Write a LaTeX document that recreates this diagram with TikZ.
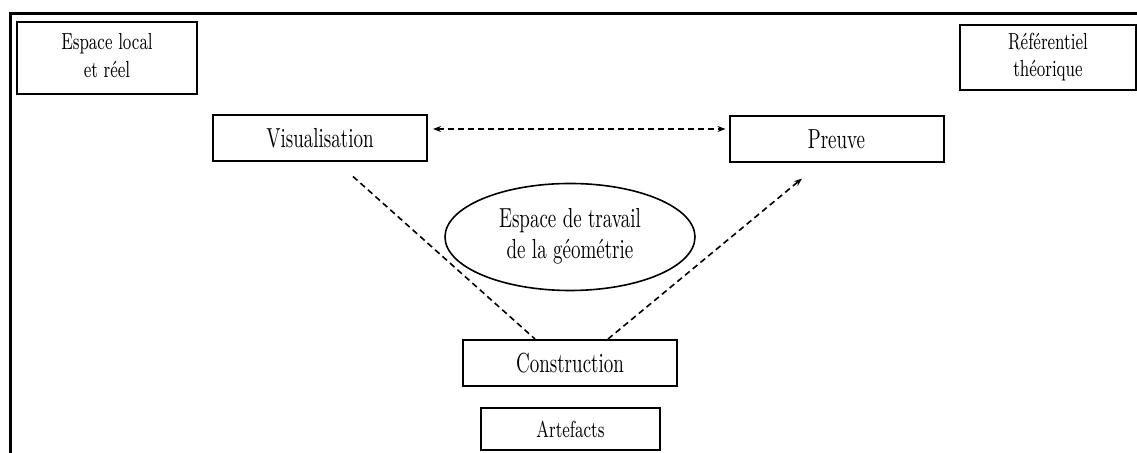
\documentclass[tikz,border=0pt]{standalone}
\usepackage{graphicx}
\usetikzlibrary{shapes.geometric,arrows.meta}
\newcommand{\tall}[1]{\scalebox{1}[1.45]{#1}}
\newcommand{\twolines}[2]{\tall{\begin{tabular}{@{}c@{}}#1\\#2\end{tabular}}}

\begin{document}
\begin{tikzpicture}
  [x=0.5pt,y=-0.5pt,
   box/.style={draw,line width=1pt,minimum width=107pt,minimum height=23pt,inner sep=0pt,font=\fontsize{9.5}{11}\selectfont},
   smallbox/.style={draw,line width=1pt,inner sep=0pt,font=\fontsize{8}{9.5}\selectfont},
   link/.style={dash pattern=on 3pt off 2pt,line width=0.8pt,>={Stealth[length=4pt,width=3pt]}}]
  \useasboundingbox (0,0) rectangle (1137,453);
  \draw[line width=1.5pt] (10,453) -- (10,14) -- (1137,14);
  \node[smallbox,minimum width=90pt,minimum height=36pt] (local) at (107,58) {\twolines{Espace local}{et réel}};
  \node[smallbox,minimum width=88pt,minimum height=32.5pt] (ref) at (1048,57.5) {\twolines{Référentiel}{théorique}};
  \node[box] (vis) at (320,138.5) {\tall{Visualisation}};
  \node[box] (preuve) at (836.5,139.5) {\tall{Preuve}};
  \node[draw,ellipse,line width=0.8pt,minimum width=125pt,minimum height=53.5pt,inner sep=0pt,
        font=\fontsize{9.5}{10.5}\selectfont] (ett) at (570,237) {\twolines{Espace de travail}{de la géométrie}};
  \node[box] (constr) at (570,363) {\tall{Construction}};
  \node[smallbox,minimum width=89.5pt,minimum height=21pt] (artef) at (570.5,429) {\tall{Artefacts}};
  \draw[link,<->] ([shift={(5,-9.5)}]vis.east) -- ([shift={(-3,-10.5)}]preuve.west);
  \draw[link] ([shift={(33,14)}]vis.south) -- ([xshift=-17.5pt]constr.north);
  \draw[link,->] ([xshift=19pt]constr.north) -- ([shift={(-34.5,15)}]preuve.south);
\end{tikzpicture}
\end{document}
